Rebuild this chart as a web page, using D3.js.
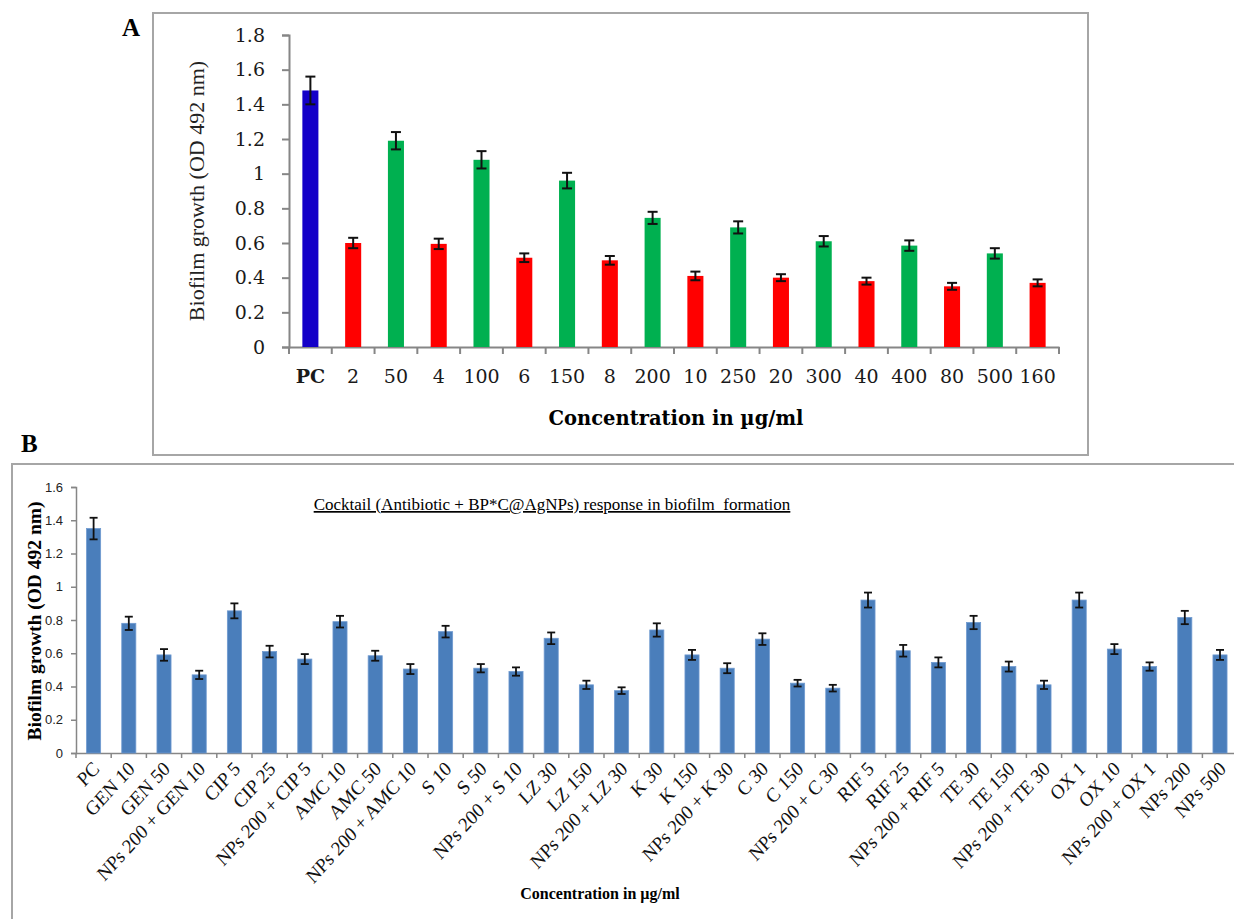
<!DOCTYPE html>
<html>
<head>
<meta charset="utf-8">
<script src="https://cdn.jsdelivr.net/npm/d3@7"></script>
<style>
  body { margin: 0; background: #fff; }
  svg { display: block; }
</style>
</head>
<body>
<div id="chart"></div>
<script>
// ---- data, panel A ----
const labelsA = ['PC', '2', '50', '4', '100', '6', '150', '8', '200', '10', '250', '20', '300', '40', '400', '80', '500', '160'];
const valuesA = [1.48, 0.60, 1.19, 0.595, 1.08, 0.515, 0.96, 0.50, 0.745, 0.41, 0.69, 0.40, 0.61, 0.38, 0.585, 0.35, 0.54, 0.37];
const errorsA = [0.08, 0.03, 0.05, 0.03, 0.05, 0.025, 0.045, 0.025, 0.035, 0.025, 0.035, 0.02, 0.03, 0.02, 0.03, 0.02, 0.03, 0.02];
const groupA = ['control', 'np', 'ab', 'np', 'ab', 'np', 'ab', 'np', 'ab', 'np', 'ab', 'np', 'ab', 'np', 'ab', 'np', 'ab', 'np'];
const ticksA = [0, 0.2, 0.4, 0.6, 0.8, 1, 1.2, 1.4, 1.6, 1.8];

// ---- data, panel B ----
const labelsB = ['PC', 'GEN 10', 'GEN 50', 'NPs 200 + GEN 10', 'CIP 5', 'CIP 25', 'NPs 200 + CIP 5',
  'AMC 10', 'AMC 50', 'NPs 200 + AMC 10', 'S 10', 'S 50', 'NPs 200 + S 10', 'LZ 30', 'LZ 150',
  'NPs 200 + LZ 30', 'K 30', 'K 150', 'NPs 200 + K 30', 'C 30', 'C 150', 'NPs 200 + C 30',
  'RIF 5', 'RIF 25', 'NPs 200 + RIF 5', 'TE 30', 'TE 150', 'NPs 200 + TE 30', 'OX 1', 'OX 10',
  'NPs 200 + OX 1', 'NPs 200', 'NPs 500'];
const valuesB = [1.35, 0.78, 0.59, 0.47, 0.855, 0.61, 0.565, 0.79, 0.585, 0.505, 0.73, 0.51, 0.49,
  0.69, 0.41, 0.375, 0.74, 0.59, 0.51, 0.685, 0.42, 0.39, 0.92, 0.615, 0.545, 0.785, 0.52, 0.41,
  0.92, 0.625, 0.52, 0.815, 0.59];
const errorsB = [0.065, 0.04, 0.035, 0.025, 0.045, 0.035, 0.03, 0.035, 0.03, 0.03, 0.035, 0.025, 0.025,
  0.035, 0.025, 0.02, 0.04, 0.03, 0.03, 0.035, 0.02, 0.02, 0.045, 0.035, 0.03, 0.04, 0.03, 0.025,
  0.045, 0.03, 0.025, 0.04, 0.03];
const ticksB = [0, 0.2, 0.4, 0.6, 0.8, 1, 1.2, 1.4, 1.6];

const width = 1234, height = 919;
const serif = '"Liberation Serif", "Times New Roman", Times, serif';
const wideSerif = '"DejaVu Serif", Cambria, serif';
const sans = '"Liberation Sans", Arial, sans-serif';
const axisColor = '#868686';
const fmt = d => String(+d.toFixed(1));

const svg = d3.select('#chart').append('svg')
    .attr('width', width)
    .attr('height', height);

// ================= panel A =================
svg.append('rect')
    .attr('x', 153).attr('y', 13)
    .attr('width', 935).attr('height', 442)
    .attr('fill', 'none')
    .attr('stroke', '#a6a6a6')
    .attr('stroke-width', 2);

svg.append('text')
    .attr('x', 122).attr('y', 36)
    .attr('font-family', serif).attr('font-weight', 'bold').attr('font-size', 25)
    .text('A');

const colorA = d3.scaleOrdinal()
    .domain(['control', 'np', 'ab'])
    .range(['#1400c8', '#ff0000', '#00b050']);

const xA = d3.scaleBand()
    .domain(labelsA)
    .range([289, 1059])
    .paddingInner(0.625)
    .paddingOuter(0.3125);
const yA = d3.scaleLinear().domain([0, 1.8]).range([347, 35]);

const gA = svg.append('g');

// y axis
gA.append('g')
    .attr('transform', 'translate(289,0)')
    .call(d3.axisLeft(yA).tickValues(ticksA).tickFormat(fmt).tickSize(7).tickPadding(17))
    .call(g => {
      g.selectAll('path, line').attr('stroke', axisColor).attr('stroke-width', 2);
      g.selectAll('text').attr('font-family', wideSerif).attr('font-size', 19).attr('fill', '#1a1a1a');
    });

// x axis: labels at band centres, ticks between categories
gA.append('g')
    .attr('transform', 'translate(0,347)')
    .call(d3.axisBottom(xA).tickSize(0).tickPadding(23))
    .call(g => {
      g.select('.domain').attr('stroke', axisColor).attr('stroke-width', 2);
      g.selectAll('text')
        .attr('font-family', wideSerif).attr('font-size', 19).attr('fill', '#1a1a1a')
        .attr('font-weight', d => d === 'PC' ? 'bold' : 'normal');
    });
gA.append('g').selectAll('line')
    .data(d3.range(labelsA.length + 1))
    .join('line')
    .attr('x1', i => 289 + i * xA.step()).attr('x2', i => 289 + i * xA.step())
    .attr('y1', 347).attr('y2', 354)
    .attr('stroke', axisColor).attr('stroke-width', 2);

gA.append('g').selectAll('rect')
    .data(labelsA)
    .join('rect')
    .attr('x', d => xA(d))
    .attr('y', (d, i) => yA(valuesA[i]))
    .attr('width', xA.bandwidth())
    .attr('height', (d, i) => yA(0) - yA(valuesA[i]))
    .attr('fill', (d, i) => colorA(groupA[i]));

// error bars
const errA = gA.append('g').attr('stroke', '#111').attr('stroke-width', 2);
labelsA.forEach((d, i) => {
  const cx = xA(d) + xA.bandwidth() / 2;
  const top = yA(valuesA[i] + errorsA[i]), bot = yA(valuesA[i] - errorsA[i]);
  errA.append('line').attr('x1', cx).attr('x2', cx).attr('y1', top).attr('y2', bot);
  errA.append('line').attr('x1', cx - 5).attr('x2', cx + 5).attr('y1', top).attr('y2', top);
  errA.append('line').attr('x1', cx - 5).attr('x2', cx + 5).attr('y1', bot).attr('y2', bot);
});

gA.append('text')
    .attr('transform', 'translate(204,191) rotate(-90)')
    .attr('text-anchor', 'middle')
    .attr('font-family', serif).attr('font-size', 22).attr('fill', '#222')
    .text('Biofilm growth (OD 492 nm)');

gA.append('text')
    .attr('x', 676).attr('y', 425)
    .attr('text-anchor', 'middle')
    .attr('font-family', wideSerif).attr('font-weight', 'bold').attr('font-size', 19.5)
    .text('Concentration in µg/ml');

// ================= panel B =================
svg.append('rect')
    .attr('x', 12).attr('y', 464)
    .attr('width', 1300).attr('height', 500)
    .attr('fill', 'none')
    .attr('stroke', '#a6a6a6')
    .attr('stroke-width', 2);

svg.append('text')
    .attr('x', 21).attr('y', 452)
    .attr('font-family', serif).attr('font-weight', 'bold').attr('font-size', 25)
    .text('B');

const xB = d3.scaleBand()
    .domain(labelsB)
    .range([76, 76 + 35.2 * labelsB.length])
    .paddingInner(0.6)
    .paddingOuter(0.3);
const yB = d3.scaleLinear().domain([0, 1.6]).range([753, 487]);

const gB = svg.append('g');

gB.append('g')
    .attr('transform', 'translate(76,0)')
    .call(d3.axisLeft(yB).tickValues(ticksB).tickFormat(fmt).tickSize(5).tickPadding(8))
    .call(g => {
      g.selectAll('path, line').attr('stroke', axisColor).attr('stroke-width', 1.5);
      g.selectAll('text').attr('font-family', sans).attr('font-size', 13).attr('fill', '#222');
    });

// the source figure is a little stretched vertically, so the slanted labels are too
gB.append('g')
    .attr('transform', 'translate(0,753)')
    .call(d3.axisBottom(xB).tickSize(0).tickPadding(0))
    .call(g => {
      g.select('.domain').attr('stroke', axisColor).attr('stroke-width', 1.5);
      g.selectAll('text')
        .attr('font-family', serif).attr('font-size', 18.5).attr('fill', '#111')
        .attr('text-anchor', 'end')
        .attr('dy', 0)
        .attr('transform', 'translate(7,17) scale(1,1.1) rotate(-45)');
    });
gB.append('g').selectAll('line')
    .data(d3.range(labelsB.length + 1))
    .join('line')
    .attr('x1', i => 76 + i * xB.step()).attr('x2', i => 76 + i * xB.step())
    .attr('y1', 753).attr('y2', 758)
    .attr('stroke', axisColor).attr('stroke-width', 1.5);

gB.append('g').selectAll('rect')
    .data(labelsB)
    .join('rect')
    .attr('x', d => xB(d))
    .attr('y', (d, i) => yB(valuesB[i]))
    .attr('width', xB.bandwidth())
    .attr('height', (d, i) => yB(0) - yB(valuesB[i]))
    .attr('fill', '#4a7ebb')
    .attr('stroke', '#6f9ad0')
    .attr('stroke-width', 0.8);

const errB = gB.append('g').attr('stroke', '#111').attr('stroke-width', 1.8);
labelsB.forEach((d, i) => {
  const cx = xB(d) + xB.bandwidth() / 2;
  const top = yB(valuesB[i] + errorsB[i]), bot = yB(valuesB[i] - errorsB[i]);
  errB.append('line').attr('x1', cx).attr('x2', cx).attr('y1', top).attr('y2', bot);
  errB.append('line').attr('x1', cx - 4).attr('x2', cx + 4).attr('y1', top).attr('y2', top);
  errB.append('line').attr('x1', cx - 4).attr('x2', cx + 4).attr('y1', bot).attr('y2', bot);
});

gB.append('text')
    .attr('transform', 'translate(41,621) rotate(-90)')
    .attr('text-anchor', 'middle')
    .attr('font-family', serif).attr('font-weight', 'bold').attr('font-size', 19.5)
    .text('Biofilm growth (OD 492 nm)');

gB.append('text')
    .attr('x', 600).attr('y', 899)
    .attr('text-anchor', 'middle')
    .attr('font-family', serif).attr('font-weight', 'bold').attr('font-size', 16)
    .text('Concentration in µg/ml');

gB.append('text')
    .attr('x', 552).attr('y', 510)
    .attr('text-anchor', 'middle')
    .attr('font-family', serif).attr('font-size', 17)
    .attr('text-decoration', 'underline')
    .style('white-space', 'pre')
    .text('Cocktail (Antibiotic + BP*C@AgNPs) response in biofilm  formation');
</script>
</body>
</html>
